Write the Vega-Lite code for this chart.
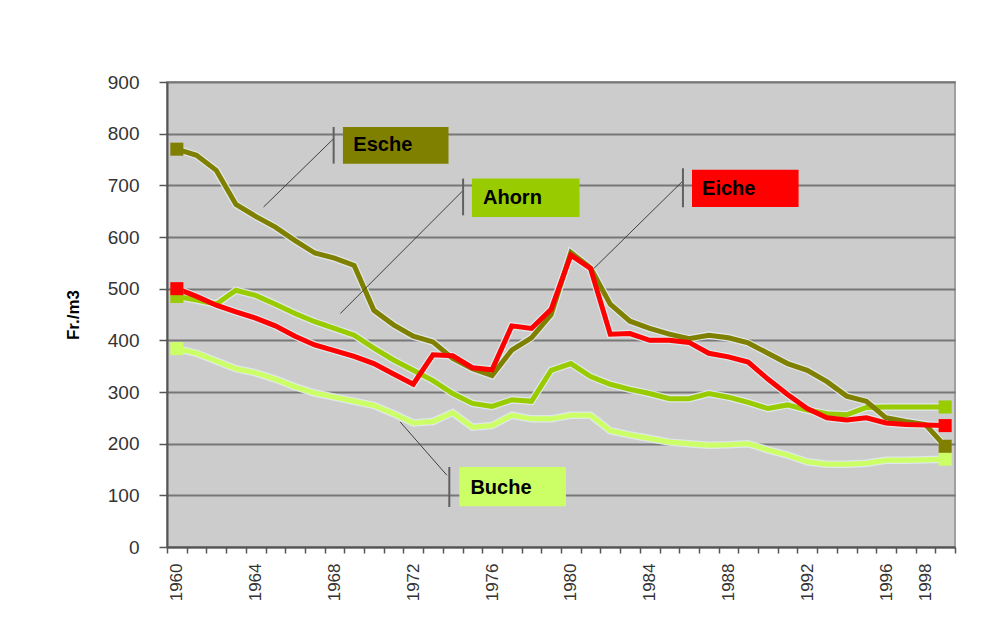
{
  "$schema": "https://vega.github.io/schema/vega-lite/v6.json",
  "width": 788,
  "height": 465,
  "autosize": {"type": "none"},
  "padding": {"left": 167, "top": 82, "right": 50, "bottom": 80},
  "background": "white",
  "config": {
    "view": {"fill": "#cccccc", "stroke": "#a0a0a0", "strokeWidth": 2},
    "font": "Liberation Sans",
    "axis": {"labelFont": "Liberation Sans", "titleFont": "Liberation Sans"}
  },
  "resolve": {"axis": {"x": "independent"}},
  "datasets": {
    "wood": [
      {"year": 1960, "Esche": 770, "Ahorn": 485, "Eiche": 500, "Buche": 384},
      {"year": 1961, "Esche": 758, "Ahorn": 478, "Eiche": 485, "Buche": 375},
      {"year": 1962, "Esche": 729, "Ahorn": 470, "Eiche": 468, "Buche": 360},
      {"year": 1963, "Esche": 663, "Ahorn": 497, "Eiche": 455, "Buche": 345},
      {"year": 1964, "Esche": 640, "Ahorn": 487, "Eiche": 443, "Buche": 337},
      {"year": 1965, "Esche": 619, "Ahorn": 470, "Eiche": 428, "Buche": 325},
      {"year": 1966, "Esche": 593, "Ahorn": 452, "Eiche": 408, "Buche": 310},
      {"year": 1967, "Esche": 569, "Ahorn": 436, "Eiche": 391, "Buche": 298},
      {"year": 1968, "Esche": 559, "Ahorn": 423, "Eiche": 380, "Buche": 290},
      {"year": 1969, "Esche": 545, "Ahorn": 410, "Eiche": 369, "Buche": 282},
      {"year": 1970, "Esche": 458, "Ahorn": 385, "Eiche": 355, "Buche": 274},
      {"year": 1971, "Esche": 430, "Ahorn": 362, "Eiche": 335, "Buche": 258},
      {"year": 1972, "Esche": 408, "Ahorn": 342, "Eiche": 315, "Buche": 240},
      {"year": 1973, "Esche": 397, "Ahorn": 322, "Eiche": 372, "Buche": 243},
      {"year": 1974, "Esche": 365, "Ahorn": 297, "Eiche": 370, "Buche": 260},
      {"year": 1975, "Esche": 345, "Ahorn": 278, "Eiche": 347, "Buche": 232},
      {"year": 1976, "Esche": 332, "Ahorn": 272, "Eiche": 343, "Buche": 235},
      {"year": 1977, "Esche": 381, "Ahorn": 285, "Eiche": 428, "Buche": 255},
      {"year": 1978, "Esche": 405, "Ahorn": 282, "Eiche": 423, "Buche": 248},
      {"year": 1979, "Esche": 450, "Ahorn": 342, "Eiche": 460, "Buche": 248},
      {"year": 1980, "Esche": 570, "Ahorn": 355, "Eiche": 565, "Buche": 255},
      {"year": 1981, "Esche": 540, "Ahorn": 330, "Eiche": 539, "Buche": 255},
      {"year": 1982, "Esche": 470, "Ahorn": 315, "Eiche": 412, "Buche": 225},
      {"year": 1983, "Esche": 437, "Ahorn": 305, "Eiche": 413, "Buche": 217},
      {"year": 1984, "Esche": 423, "Ahorn": 297, "Eiche": 400, "Buche": 210},
      {"year": 1985, "Esche": 412, "Ahorn": 287, "Eiche": 400, "Buche": 203},
      {"year": 1986, "Esche": 403, "Ahorn": 287, "Eiche": 396, "Buche": 200},
      {"year": 1987, "Esche": 410, "Ahorn": 297, "Eiche": 375, "Buche": 197},
      {"year": 1988, "Esche": 405, "Ahorn": 290, "Eiche": 368, "Buche": 198},
      {"year": 1989, "Esche": 395, "Ahorn": 280, "Eiche": 358, "Buche": 200},
      {"year": 1990, "Esche": 375, "Ahorn": 268, "Eiche": 325, "Buche": 188},
      {"year": 1991, "Esche": 355, "Ahorn": 275, "Eiche": 295, "Buche": 178},
      {"year": 1992, "Esche": 342, "Ahorn": 265, "Eiche": 268, "Buche": 165},
      {"year": 1993, "Esche": 320, "Ahorn": 258, "Eiche": 250, "Buche": 160},
      {"year": 1994, "Esche": 292, "Ahorn": 256, "Eiche": 246, "Buche": 160},
      {"year": 1995, "Esche": 282, "Ahorn": 270, "Eiche": 250, "Buche": 162},
      {"year": 1996, "Esche": 250, "Ahorn": 271, "Eiche": 240, "Buche": 168},
      {"year": 1997, "Esche": 243, "Ahorn": 271, "Eiche": 237, "Buche": 168},
      {"year": 1998, "Esche": 237, "Ahorn": 271, "Eiche": 236, "Buche": 169},
      {"year": 1999, "Esche": 195, "Ahorn": 271, "Eiche": 235, "Buche": 170}
    ],
    "notes": [
      {"name": "Esche", "bx1": 1968.43, "bx2": 1973.79, "by1": 812.9, "by2": 742.0, "tx": 1968.96, "ty": 777.4, "kx": 1967.96, "ky1": 812.9, "ky2": 742.0, "lx1": 1967.96, "ly1": 790.4, "lx2": 1964.4, "ly2": 658},
      {"name": "Ahorn", "bx1": 1974.98, "bx2": 1980.44, "by1": 713, "by2": 638.7, "tx": 1975.54, "ty": 675.8, "kx": 1974.53, "ky1": 713, "ky2": 642, "lx1": 1974.53, "ly1": 690, "lx2": 1968.3, "ly2": 452},
      {"name": "Eiche", "bx1": 1986.15, "bx2": 1991.56, "by1": 730.4, "by2": 658, "tx": 1986.66, "ty": 693.6, "kx": 1985.69, "ky1": 733, "ky2": 657.5, "lx1": 1985.72, "ly1": 709.7, "lx2": 1981.16, "ly2": 538.8},
      {"name": "Buche", "bx1": 1974.34, "bx2": 1979.75, "by1": 154.8, "by2": 78.8, "tx": 1974.9, "ty": 115, "kx": 1973.83, "ky1": 154.8, "ky2": 77.4, "lx1": 1973.71, "ly1": 138.8, "lx2": 1971.34, "ly2": 241.9}
    ]
  },
  "layer": [
    {
      "data": {"name": "wood"},
      "transform": [{"fold": ["Buche", "Ahorn", "Esche", "Eiche"], "as": ["art", "preis"]}],
      "mark": {"type": "line", "strokeWidth": 7.5, "color": "#e2eaec", "opacity": 0.9},
      "encoding": {
        "x": {
          "field": "year", "type": "quantitative", "title": null,
          "scale": {"domain": [1959.5, 1999.5], "nice": false, "zero": false},
          "axis": {
            "orient": "bottom",
            "title": null,
            "values": [1959.5, 1960.5, 1961.5, 1962.5, 1963.5, 1964.5, 1965.5, 1966.5, 1967.5, 1968.5, 1969.5, 1970.5, 1971.5, 1972.5, 1973.5, 1974.5, 1975.5, 1976.5, 1977.5, 1978.5, 1979.5, 1980.5, 1981.5, 1982.5, 1983.5, 1984.5, 1985.5, 1986.5, 1987.5, 1988.5, 1989.5, 1990.5, 1991.5, 1992.5, 1993.5, 1994.5, 1995.5, 1996.5, 1997.5, 1998.5, 1999.5],
            "labels": false,
            "tickSize": 6,
            "tickColor": "#555555",
            "tickWidth": 1.5,
            "domainColor": "#555555",
            "domainWidth": 2,
            "grid": false
          }
        },
        "y": {
          "field": "preis", "type": "quantitative", "title": "Fr./m3",
          "scale": {"domain": [0, 900], "nice": false},
          "axis": {
            "title": "Fr./m3",
            "titleFontSize": 17,
            "titleFontWeight": "bold",
            "titleColor": "#000000",
            "titlePadding": 25,
            "values": [0, 100, 200, 300, 400, 500, 600, 700, 800, 900],
            "labelFontSize": 19,
            "labelColor": "#333333",
            "labelPadding": 20,
            "tickSize": 8,
            "tickColor": "#555555",
            "tickWidth": 1.5,
            "domainColor": "#555555",
            "domainWidth": 2,
            "grid": true,
            "gridColor": "#777777",
            "gridWidth": 2
          }
        },
        "detail": {"field": "art"}
      }
    },
    {
      "data": {"name": "wood"},
      "transform": [{"fold": ["Buche", "Ahorn", "Esche", "Eiche"], "as": ["art", "preis"]}],
      "mark": {"type": "line", "strokeWidth": 5},
      "encoding": {
        "x": {
          "field": "year", "type": "quantitative", "title": null,
          "axis": {
            "orient": "bottom",
            "title": null,
            "values": [1960, 1964, 1968, 1972, 1976, 1980, 1984, 1988, 1992, 1996, 1998],
            "format": "d",
            "labelAngle": 270,
            "labelFontSize": 17,
            "labelColor": "#333333",
            "labelPadding": 16,
            "labelOverlap": false,
            "labelBound": false,
            "labelFlush": false,
            "ticks": false,
            "domain": false,
            "grid": false
          }
        },
        "y": {"field": "preis", "type": "quantitative", "title": "Fr./m3"},
        "color": {
          "field": "art", "type": "nominal",
          "scale": {"domain": ["Esche", "Ahorn", "Eiche", "Buche"], "range": ["#808000", "#99cc00", "#ff0000", "#ccff66"]},
          "legend": null
        }
      }
    },
    {
      "data": {"name": "wood"},
      "transform": [
        {"fold": ["Buche", "Ahorn", "Esche", "Eiche"], "as": ["art", "preis"]},
        {"filter": "datum.year == 1960 || datum.year == 1999"}
      ],
      "mark": {"type": "point", "shape": "square", "filled": true, "size": 170, "opacity": 1},
      "encoding": {
        "x": {"field": "year", "type": "quantitative", "axis": null},
        "y": {"field": "preis", "type": "quantitative", "title": "Fr./m3"},
        "color": {"field": "art", "type": "nominal", "legend": null}
      }
    },
    {
      "data": {"name": "notes"},
      "mark": {"type": "rule", "color": "#404040", "strokeWidth": 1},
      "encoding": {
        "x": {"field": "lx1", "type": "quantitative", "axis": null},
        "y": {"field": "ly1", "type": "quantitative", "title": "Fr./m3"},
        "x2": {"field": "lx2"},
        "y2": {"field": "ly2"}
      }
    },
    {
      "data": {"name": "notes"},
      "mark": {"type": "rule", "color": "#606060", "strokeWidth": 2},
      "encoding": {
        "x": {"field": "kx", "type": "quantitative", "axis": null},
        "y": {"field": "ky1", "type": "quantitative", "title": "Fr./m3"},
        "y2": {"field": "ky2"}
      }
    },
    {
      "data": {"name": "notes"},
      "mark": {"type": "rect"},
      "encoding": {
        "x": {"field": "bx1", "type": "quantitative", "axis": null},
        "x2": {"field": "bx2"},
        "y": {"field": "by1", "type": "quantitative", "title": "Fr./m3"},
        "y2": {"field": "by2"},
        "color": {"field": "name", "type": "nominal", "legend": null}
      }
    },
    {
      "data": {"name": "notes"},
      "mark": {"type": "text", "align": "left", "baseline": "middle", "fontSize": 20, "fontWeight": "bold", "color": "#000000", "font": "Liberation Sans"},
      "encoding": {
        "x": {"field": "tx", "type": "quantitative", "axis": null},
        "y": {"field": "ty", "type": "quantitative", "title": "Fr./m3"},
        "text": {"field": "name"}
      }
    }
  ]
}
